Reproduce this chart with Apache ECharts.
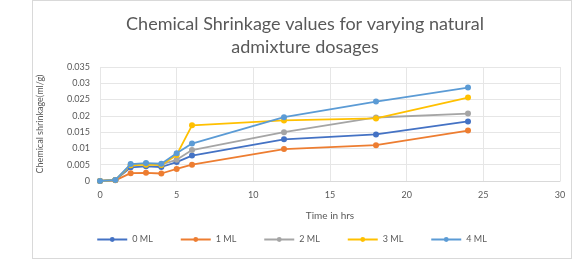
<!DOCTYPE html>
<html>
<head>
<meta charset="utf-8">
<script src="https://cdn.jsdelivr.net/npm/echarts@6/dist/echarts.min.js"></script>
<style>
  html, body { margin: 0; padding: 0; background: #fff; }
  #frame { position: absolute; left: 32px; top: 0; width: 538px; height: 257px; border: 1px solid #d9d9d9; }
  #chart { width: 583px; height: 260px; }
</style>
</head>
<body>
<div id="frame"></div>
<div id="chart"></div>
<script>
// 时间 (hrs)
var hours = [0, 1, 2, 3, 4, 5, 6, 12, 18, 24];
var seriesNames = ['0 ML', '1 ML', '2 ML', '3 ML', '4 ML'];
var ml0 = [0, 0.0003, 0.0042, 0.0045, 0.0043, 0.0058, 0.0078, 0.0128, 0.0143, 0.0183];
var ml1 = [0, 0.0002, 0.0024, 0.0025, 0.0023, 0.0037, 0.0050, 0.0098, 0.0110, 0.0155];
var ml2 = [0, 0.0003, 0.0050, 0.0053, 0.0051, 0.0065, 0.0095, 0.0150, 0.0195, 0.0207];
var ml3 = [0, 0.0003, 0.0048, 0.0050, 0.0049, 0.0080, 0.0171, 0.0186, 0.0192, 0.0256];
var ml4 = [0, 0.0003, 0.0052, 0.0055, 0.0053, 0.0085, 0.0115, 0.0196, 0.0244, 0.0287];
var colors = ['#4472C4', '#ED7D31', '#A5A5A5', '#FFC000', '#5B9BD5'];
var yTicks = ['0', '0.005', '0.01', '0.015', '0.02', '0.025', '0.03', '0.035'];

function pairs(vals) {
    return hours.map(function (h, i) { return [h, vals[i]]; });
}

var myChart = echarts.init(document.getElementById('chart'));
var font = 'Lato, "Open Sans", sans-serif';
myChart.setOption({
    color: colors,
    textStyle: { fontFamily: font },
    title: {
        text: 'Chemical Shrinkage values for varying natural\nadmixture dosages',
        left: 300,
        textAlign: 'center',
        top: 8,
        textStyle: { fontSize: 18, fontWeight: 'normal', color: '#595959', lineHeight: 23, fontFamily: font }
    },
    legend: {
        data: seriesNames,
        bottom: 11,
        left: 'center',
        itemWidth: 30,
        itemHeight: 6,
        itemGap: 27,
        textStyle: { fontSize: 9, color: '#595959' }
    },
    grid: { left: 100, right: 23, top: 67, bottom: 79 },
    xAxis: {
        type: 'value',
        min: 0, max: 30, interval: 5,
        name: 'Time in hrs',
        nameLocation: 'middle',
        nameGap: 30,
        nameTextStyle: { fontSize: 10, color: '#595959' },
        axisLine: { show: true, lineStyle: { color: '#d9d9d9' } },
        axisTick: { show: false },
        axisLabel: { fontSize: 9, color: '#595959', margin: 10 },
        splitLine: { show: true, lineStyle: { color: '#e6e6e6' } }
    },
    yAxis: {
        type: 'value',
        min: 0, max: 0.035, interval: 0.005,
        name: 'Chemical shrinkage(ml/g)',
        nameLocation: 'middle',
        nameGap: 55,
        nameTextStyle: { fontSize: 9, color: '#595959' },
        axisLine: { show: false },
        axisTick: { show: false },
        axisLabel: {
            fontSize: 9, color: '#595959', margin: 10,
            formatter: function (v) { return yTicks[Math.round(v / 0.005)]; }
        },
        splitLine: { lineStyle: { color: '#e6e6e6' } }
    },
    series: [ml0, ml1, ml2, ml3, ml4].map(function (vals, i) {
        return {
            name: seriesNames[i],
            type: 'line',
            data: pairs(vals),
            symbol: 'circle',
            symbolSize: 6,
            lineStyle: { width: 1.8 },
            z: i === 4 ? 5 : 2
        };
    })
});
</script>
</body>
</html>
